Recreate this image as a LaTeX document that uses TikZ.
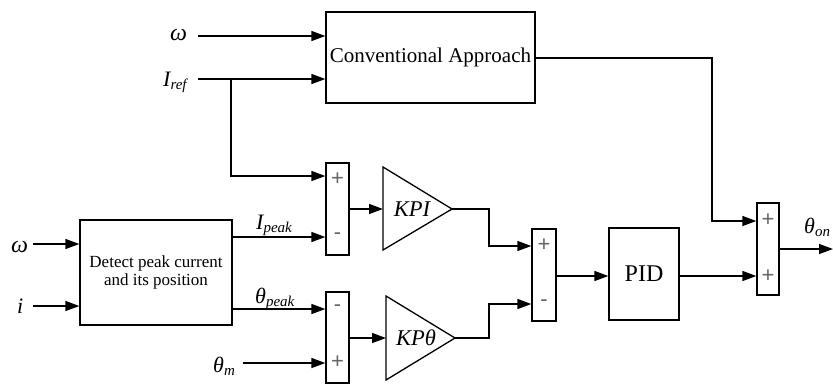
\documentclass[tikz,border=0pt]{standalone}
\usepackage{fontspec}
\setmainfont{Liberation Serif}
\newfontfamily\signfont{Liberation Sans}
\usetikzlibrary{arrows.meta}
\newcommand{\fsz}[1]{\fontsize{#1}{#1}\selectfont}
\newcommand{\sub}[1]{\raisebox{-0.14em}{\fsz{15}\itshape #1}}
\begin{document}
\begin{tikzpicture}[x=1pt,y=-1pt,
  ln/.style={line width=1.4pt},
  arr/.style={ln,-{Triangle[length=14pt,width=10pt]}},
  blk/.style={draw,line width=1.3pt,inner sep=0pt},
  sumblk/.style={draw,line width=1.3pt,inner sep=0pt,minimum width=23pt,minimum height=92pt},
  sgn/.style={inner sep=0pt,text=black!60,font=\signfont\fsz{22}},
  lbl/.style={inner sep=0pt,anchor=base west,font=\fsz{22}},
  gain/.style={draw,line width=1.3pt,fill=white}]
\useasboundingbox (0,0) rectangle (833,384);

% blocks
\node[blk,minimum width=209pt,minimum height=91pt,font=\fsz{21}] (ca) at (430.5,57.5) {Conventional Approach};
\node[blk,minimum width=152pt,minimum height=105pt,font=\fsz{17},align=center] (det) at (156,272.5) {Detect peak current\\[1pt]and its position};
\node[sumblk] (s1) at (337.5,209) {};
\node[sumblk,minimum height=91pt] (s2) at (337.5,337.5) {};
\node[sumblk,minimum width=24pt] (s3) at (544,275) {};
\node[sumblk,minimum width=22pt] (s4) at (768,249) {};
\node[blk,minimum width=70pt,minimum height=92pt,font=\fsz{24}] (pid) at (644,274) {PID};

% gains
\draw[gain] (383,167) -- (452,209) -- (383,250) -- cycle;
\node[inner sep=0pt,font=\itshape\fsz{22.5}] (kpi) at (412,209) {KPI};
\coordinate (kpiin) at (383,209);
\coordinate (kpiout) at (452,209);
\draw[gain] (386,296) -- (455,338) -- (386,380) -- cycle;
\node[inner sep=0pt,font=\itshape\fsz{22.5}] (kpt) at (416,338) {KPθ};
\coordinate (kptin) at (386,338);
\coordinate (kptout) at (455,338);

% signs
\node[sgn] (p11) at (337.5,179) {+};
\node[sgn] (p12) at (337.5,236) {-};
\node[sgn] (p21) at (337.5,308) {-};
\node[sgn] (p22) at (337.5,362) {+};
\node[sgn] (p31) at (544,245) {+};
\node[sgn] (p32) at (544,303) {-};
\node[sgn] (p41) at (768,220) {+};
\node[sgn] (p42) at (768,276) {+};

% labels
\node[lbl,font=\fsz{24}] (lw1) at (170,40) {\itshape ω};
\node[lbl] (lir) at (163,86) {\itshape I\sub{ref}};
\node[lbl,font=\fsz{24}] (lw2) at (11,252) {\itshape ω};
\node[lbl] (li) at (17,313) {\itshape i};
\node[lbl] (lip) at (256,229) {\itshape I\sub{peak}};
\node[lbl] (ltp) at (255,303) {\itshape θ\sub{peak}};
\node[lbl] (ltm) at (213,372) {\itshape θ\sub{m}};
\node[lbl] (lto) at (804,233) {\itshape θ\sub{on}};

% port coordinates
\coordinate (w1s) at (198,36);
\coordinate (irs) at (198,79);
\coordinate (w2s) at (33,244);
\coordinate (is) at (33,306);
\coordinate (tms) at (243,363);
\coordinate (oute) at (833,249);

% connectors
\draw[arr] (w1s) -- (ca.west |- w1s);
\draw[arr] (irs) -- (ca.west |- irs);
\draw[arr] (231,79) |- (s1.west |- 0,176);
\draw[arr] (ca.east |- 0,58) -| (712,221) -- (s4.west |- 0,221);
\draw[arr] (w2s) -- (det.west |- w2s);
\draw[arr] (is) -- (det.west |- is);
\draw[arr] (det.east |- 0,237) -- (s1.west |- 0,237);
\draw[arr] (det.east |- 0,309) -- (s2.west |- 0,309);
\draw[arr] (tms) -- (s2.west |- tms);
\draw[arr] (s1.east) -- (kpiin);
\draw[arr] (s2.east |- kptin) -- (kptin);
\draw[arr] (kpiout) -| (489,246) -- (s3.west |- 0,246);
\draw[arr] (kptout) -| (489,304) -- (s3.west |- 0,304);
\draw[arr] (s3.east |- 0,276) -- (pid.west |- 0,276);
\draw[arr] (pid.east |- 0,276) -- (s4.west |- 0,276);
\draw[arr] (s4.east) -- (oute);
\end{tikzpicture}
\end{document}
